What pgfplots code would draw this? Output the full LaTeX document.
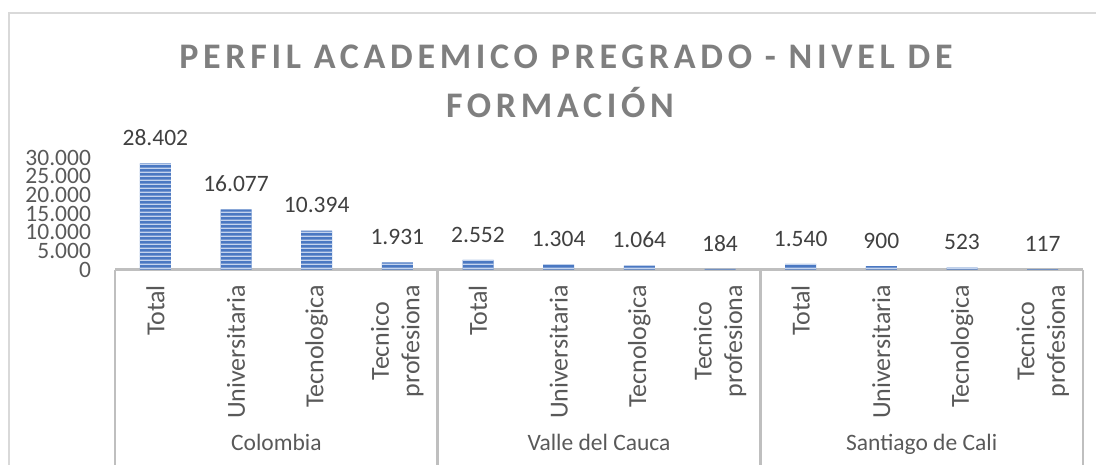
\documentclass[border=0pt]{standalone}
\usepackage{fontspec}
\setmainfont{Carlito}
\newfontfamily\titlefont{Carlito}[LetterSpace=13]
\usepackage{pgfplots}
\usepackage{pgfplotstable}
\pgfplotsset{compat=1.18}
\usetikzlibrary{patterns}

\definecolor{barblue}{HTML}{4A78C2}
\definecolor{barlight}{HTML}{C4D4EE}
\definecolor{axisgray}{HTML}{BFBFBF}
\definecolor{framegray}{HTML}{D9D9D9}
\definecolor{labelgray}{HTML}{595959}
\definecolor{valgray}{HTML}{404040}
\definecolor{titlegray}{HTML}{7F7F7F}

% franjas horizontales con baldosa ancha (sin costuras en las barras)
\pgfdeclarepatternformonly{hstripes}{\pgfpointorigin}{\pgfpoint{300pt}{4pt}}{\pgfpoint{300pt}{4pt}}{%
  \pgfpathrectangle{\pgfpointorigin}{\pgfpoint{300pt}{1.7pt}}\pgfusepath{fill}}

% posicion  valor  (Colombia | Valle del Cauca | Santiago de Cali)
\pgfplotstableread{
pos val
0  28402
1  16077
2  10394
3  1931
4  2552
5  1304
6  1064
7  184
8  1540
9  900
10 523
11 117
}\datos

\newcommand{\txt}{\fontsize{23.5}{27}\selectfont}
\newcommand{\cattxt}{\fontsize{26}{30.5}\selectfont}

\begin{document}
\begin{tikzpicture}
\useasboundingbox (0,0) rectangle (1096pt,464pt);
\clip (0,0) rectangle (1096pt,464pt);
% marco del grafico
\draw[framegray, line width=1.5pt] (9pt,-20pt) -- (9pt,451pt) -- (1120pt,451pt);

% titulo
\node[anchor=base, text=titlegray, font=\titlefont\bfseries\fontsize{36}{43}\selectfont]
  at (566pt,395.7pt) {PERFIL ACADEMICO PREGRADO - NIVEL DE};
\node[anchor=base, text=titlegray, font=\titlefont\bfseries\fontsize{36}{43}\selectfont]
  at (560pt,346pt) {FORMACIÓN};

\begin{axis}[
  at={(115pt,194.5pt)}, anchor=south west,
  scale only axis,
  width=968pt, height=112pt,
  xmin=-0.5, xmax=11.5,
  ymin=0, ymax=30000,
  clip=false,
  axis lines*=left,
  y axis line style={draw=none},
  x axis line style={draw=axisgray, line width=2.5pt},
  major tick length=0pt,
  ytick={0,5000,...,30000},
  scaled y ticks=false,
  xtick=data,
  xticklabels={Total, Universitaria, Tecnologica, {Tecnico\\profesiona},
               Total, Universitaria, Tecnologica, {Tecnico\\profesiona},
               Total, Universitaria, Tecnologica, {Tecnico\\profesiona}},
  xticklabel style={rotate=90, anchor=east, align=center, font=\cattxt, text=labelgray},
  xticklabel shift=12pt,
  yticklabel style={font=\txt, text=labelgray},
  yticklabel shift=20.5pt,
  /pgf/number format/.cd, 1000 sep={.}, fixed, precision=0, assume math mode=true,
  /pgfplots/.cd,
  ybar, bar width=31pt,
  nodes near coords,
  every node near coord/.append style={font=\txt, text=valgray, anchor=south, yshift=14pt},
]
\addplot[draw=none, fill=barblue,
  postaction={pattern=hstripes, pattern color=barlight}]
  table[x=pos, y=val] {\datos};

% separadores de grupo
\draw[axisgray, line width=2.5pt] (axis cs:-0.5,0) -- ([yshift=-220pt]axis cs:-0.5,0);
\draw[axisgray, line width=2.5pt] (axis cs:3.5,0) -- ([yshift=-220pt]axis cs:3.5,0);
\draw[axisgray, line width=2.5pt] (axis cs:7.5,0) -- ([yshift=-220pt]axis cs:7.5,0);
\draw[axisgray, line width=2.5pt] (axis cs:11.5,0) -- ([yshift=-220pt]axis cs:11.5,0);
\node[anchor=base, font=\txt, text=labelgray] at ([yshift=-180.5pt]axis cs:1.5,0) {Colombia};
\node[anchor=base, font=\txt, text=labelgray] at ([yshift=-180.5pt]axis cs:5.5,0) {Valle del Cauca};
\node[anchor=base, font=\txt, text=labelgray] at ([yshift=-180.5pt]axis cs:9.5,0) {Santiago de Cali};
\end{axis}
\end{tikzpicture}
\end{document}
